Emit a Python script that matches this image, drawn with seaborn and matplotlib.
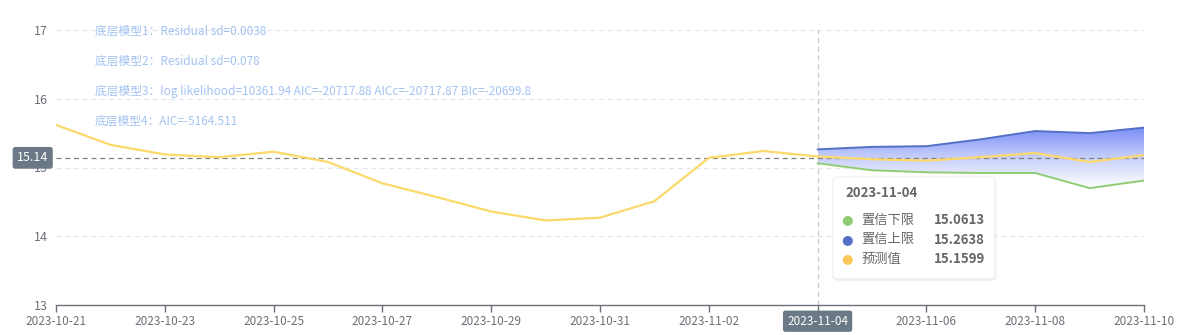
import numpy as np
import pandas as pd
import matplotlib
matplotlib.use("Agg")
import matplotlib.pyplot as plt
import matplotlib.dates as mdates
from matplotlib.patches import FancyBboxPatch
from matplotlib.colors import LinearSegmentedColormap
import seaborn as sns

# ---------------- data ----------------
hist_dates = ["2023-10-21", "2023-10-22", "2023-10-23", "2023-10-24", "2023-10-25",
              "2023-10-26", "2023-10-27", "2023-10-28", "2023-10-29", "2023-10-30",
              "2023-10-31", "2023-11-01", "2023-11-02", "2023-11-03", "2023-11-04"]
hist_values = [15.62, 15.33, 15.19, 15.15, 15.23, 15.08, 14.77, 14.57, 14.36, 14.23,
               14.27, 14.51, 15.14, 15.24, 15.1599]

fc_dates = ["2023-11-04", "2023-11-05", "2023-11-06", "2023-11-07", "2023-11-08",
            "2023-11-09", "2023-11-10"]
fc_pred = [15.1599, 15.12, 15.10, 15.15, 15.21, 15.08, 15.18]
fc_upper = [15.2638, 15.30, 15.31, 15.41, 15.53, 15.50, 15.58]
fc_lower = [15.0613, 14.96, 14.93, 14.92, 14.92, 14.70, 14.81]

ref_value = 15.14
annotations = ["底层模型1：Residual sd=0.0038",
               "底层模型2：Residual sd=0.078",
               "底层模型3：log likelihood=10361.94 AIC=-20717.88 AICc=-20717.87 BIc=-20699.8",
               "底层模型4：AIC=-5164.511"]
tooltip_date = "2023-11-04"
tooltip_names = ["置信下限", "置信上限", "预测值"]
tooltip_values = ["15.0613", "15.2638", "15.1599"]
y_ticks = [13, 14, 15, 16, 17]

# ---------------- style ----------------
sns.set_theme(style="white")
plt.rcParams["font.family"] = ["Noto Sans CJK SC", "DejaVu Sans"]

GREEN = "#91cc75"
BLUE = "#5470c6"
YELLOW = "#fac858"
LINE_YELLOW = "#fdd86a"
TEXT_GREY = "#6e7079"
LABEL_BG = "#6a7985"

fig = plt.figure(figsize=(11.9, 3.35), dpi=100)
ax = fig.add_axes([56 / 1190, 1 - 305 / 335, (1144 - 56) / 1190, (305 - 30) / 335])

hist_df = pd.DataFrame({"date": pd.to_datetime(hist_dates), "value": hist_values})
fc_df = pd.DataFrame({"date": pd.to_datetime(fc_dates), "pred": fc_pred,
                      "upper": fc_upper, "lower": fc_lower})

# grid lines
for yt in y_ticks[1:]:
    ax.axhline(yt, color="#e0e6f1", lw=0.9, ls=(0, (4, 3)), zorder=0)

# gradient fill between upper and lower
x0 = mdates.date2num(fc_df["date"].iloc[0])
x1 = mdates.date2num(fc_df["date"].iloc[-1])
cmap = LinearSegmentedColormap.from_list("g", ["#ffffff", "#c6cffb", "#7a8ef6"])
grad = np.linspace(0, 1, 256).reshape(-1, 1)
ymin_g, ymax_g = min(fc_lower), max(fc_upper)
im = ax.imshow(grad, extent=[x0, x1, ymin_g, ymax_g], origin="lower", cmap=cmap,
               aspect="auto", zorder=1, vmin=0, vmax=1)
poly = ax.fill_between(fc_df["date"], fc_df["lower"], fc_df["upper"], color="none", lw=0)
clip_path = poly.get_paths()[0]
im.set_clip_path(clip_path, transform=ax.transData)

# lines
sns.lineplot(data=hist_df, x="date", y="value", ax=ax, color=LINE_YELLOW, lw=1.6, zorder=3)
sns.lineplot(data=fc_df, x="date", y="pred", ax=ax, color=LINE_YELLOW, lw=1.6, zorder=3)
sns.lineplot(data=fc_df, x="date", y="upper", ax=ax, color=BLUE, lw=1.4, zorder=3)
sns.lineplot(data=fc_df, x="date", y="lower", ax=ax, color=GREEN, lw=1.4, zorder=3)

# reference line & crosshair
ax.axhline(ref_value, color="#808080", lw=0.9, ls=(0, (4, 3)), zorder=2)
ax.axvline(pd.to_datetime(tooltip_date), color="#c8c8d0", lw=0.9, ls=(0, (4, 3)), zorder=2)

ax.set_xlim(pd.to_datetime(hist_dates[0]), pd.to_datetime(fc_dates[-1]))
ax.set_ylim(y_ticks[0], y_ticks[-1])
ax.set_xlabel("")
ax.set_ylabel("")

ax.xaxis.set_major_locator(mdates.DayLocator(interval=2))
ax.xaxis.set_major_formatter(mdates.DateFormatter("%Y-%m-%d"))
ax.set_yticks(y_ticks)
ax.set_yticklabels([str(v) for v in y_ticks])

for side in ["top", "right", "left"]:
    ax.spines[side].set_visible(False)
ax.spines["bottom"].set_color("#6e7079")
ax.spines["bottom"].set_linewidth(1.0)
ax.tick_params(axis="x", bottom=True, length=5, width=1, color="#6e7079",
               labelsize=8.5, labelcolor=TEXT_GREY, pad=2)
ax.tick_params(axis="y", left=False, length=0, labelsize=9, labelcolor=TEXT_GREY, pad=6)

fig.canvas.draw()
for lbl in ax.get_xticklabels():
    if lbl.get_text() == tooltip_date:
        lbl.set_color("white")
        lbl.set_bbox(dict(boxstyle="round,pad=0.35,rounding_size=0.2", fc=LABEL_BG, ec="none"))

# reference label
ax.text(-0.007, ref_value, f"{ref_value:.2f}", transform=ax.get_yaxis_transform(),
        ha="right", va="center", fontsize=9, color="white", zorder=6,
        bbox=dict(boxstyle="round,pad=0.35,rounding_size=0.2", fc=LABEL_BG, ec="none"))

# annotations
for i, t in enumerate(annotations):
    fig.text(95 / 1190, 1 - (31 + 30 * i) / 335, t, fontsize=8.5, color="#a3c3f2",
             ha="left", va="center")

# tooltip
bx, by, bw, bh = 833 / 1190, 1 - 279 / 335, 162 / 1190, 102 / 335
shadow = FancyBboxPatch((bx + 0.001, by - 0.006), bw, bh, transform=fig.transFigure,
                        boxstyle="round,pad=0,rounding_size=0.006", fc="#000000", ec="none",
                        alpha=0.06, zorder=9)
fig.patches.append(shadow)
box = FancyBboxPatch((bx, by), bw, bh, transform=fig.transFigure,
                     boxstyle="round,pad=0,rounding_size=0.006", fc="white", ec="#eeeeee",
                     lw=0.8, zorder=10)
fig.patches.append(box)
fig.text(845 / 1190, 1 - 193 / 335, tooltip_date, fontsize=9.5, fontweight="bold",
         color="#666666", ha="left", va="center", zorder=11)
dot_colors = [GREEN, BLUE, YELLOW]
for i, (n, v) in enumerate(zip(tooltip_names, tooltip_values)):
    yy = 1 - (220 + 19.5 * i) / 335
    fig.text(847 / 1190, yy, "●", fontsize=9.5, color=dot_colors[i], ha="center",
             va="center", zorder=11, family="DejaVu Sans")
    fig.text(861 / 1190, yy, n, fontsize=9.5, color="#666666", ha="left", va="center", zorder=11)
    fig.text(985 / 1190, yy, v, fontsize=9.5, fontweight="bold", color="#666666",
             ha="right", va="center", zorder=11)

fig.savefig("out.png", dpi=100)
